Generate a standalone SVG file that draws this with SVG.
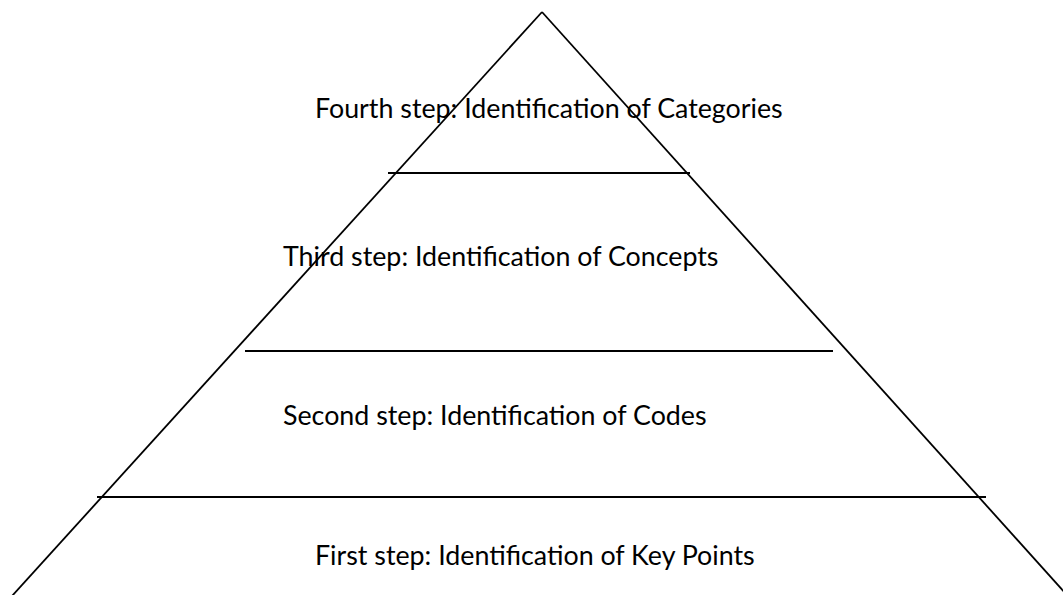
<svg xmlns="http://www.w3.org/2000/svg" width="1063" height="595" viewBox="0 0 1063 595">
  <style>
    .edge { stroke: #000; stroke-width: 1.8; fill: none; }
    .tier { stroke: #000; stroke-width: 2; fill: none; }
    .label { font-family: Lato, "Open Sans", "Liberation Sans", sans-serif; font-size: 26.8px; fill: #000; }
  </style>
  <rect width="1063" height="595" fill="#fff"/>

  <!-- pyramid outline and tier dividers -->
  <g id="connectors">
    <line class="edge" x1="542" y1="12" x2="12" y2="596"/>
    <line class="edge" x1="542" y1="12" x2="1067" y2="595"/>
    <line class="tier" x1="388" y1="173" x2="690" y2="173"/>
    <line class="tier" x1="245" y1="351" x2="833" y2="351"/>
    <line class="tier" x1="97" y1="497" x2="986" y2="497"/>
  </g>

  <g id="step4">
    <text class="label" x="315" y="118">Fourth step: Identification of Categories</text>
  </g>
  <g id="step3">
    <text class="label" x="283" y="266">Third step: Identification of Concepts</text>
  </g>
  <g id="step2">
    <text class="label" x="283" y="425">Second step: Identification of Codes</text>
  </g>
  <g id="step1">
    <text class="label" x="315" y="565">First step: Identification of Key Points</text>
  </g>
</svg>
